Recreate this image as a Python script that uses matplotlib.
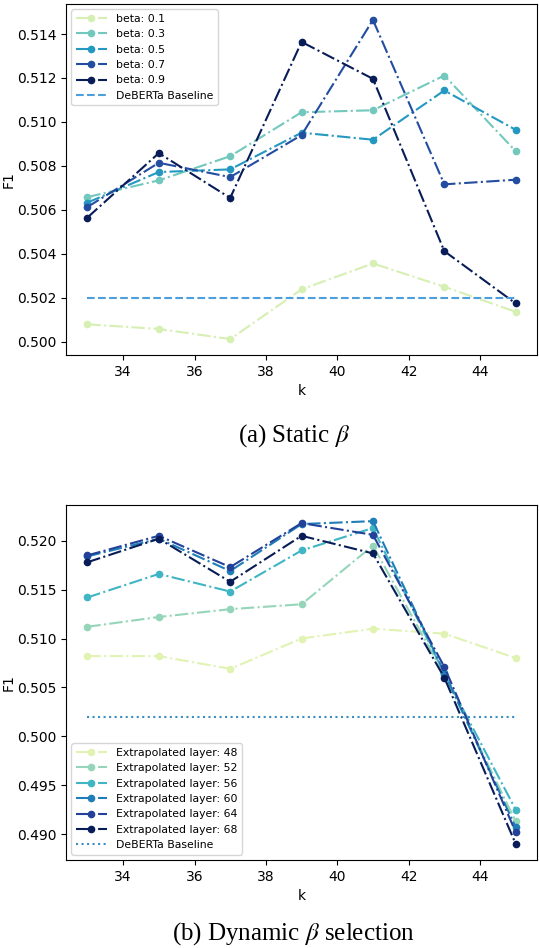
import numpy as np
import matplotlib
matplotlib.use("Agg")
import matplotlib.pyplot as plt

plt.rcParams['mathtext.fontset'] = 'stix'

k = [33, 35, 37, 39, 41, 43, 45]

# (a) Static beta
beta_labels = ["beta: 0.1", "beta: 0.3", "beta: 0.5", "beta: 0.7", "beta: 0.9"]
beta_01 = [0.50079, 0.50058, 0.50012, 0.50238, 0.50356, 0.50250, 0.50136]
beta_03 = [0.50658, 0.50734, 0.50844, 0.51044, 0.51053, 0.51211, 0.50867]
beta_05 = [0.50633, 0.50772, 0.50784, 0.50951, 0.50919, 0.51143, 0.50964]
beta_07 = [0.50613, 0.50814, 0.50749, 0.50940, 0.51464, 0.50716, 0.50737]
beta_09 = [0.50565, 0.50858, 0.50654, 0.51364, 0.51196, 0.50412, 0.50174]
static_series = [beta_01, beta_03, beta_05, beta_07, beta_09]

# (b) Dynamic beta selection
layer_labels = ["Extrapolated layer: 48", "Extrapolated layer: 52", "Extrapolated layer: 56",
                "Extrapolated layer: 60", "Extrapolated layer: 64", "Extrapolated layer: 68"]
layer_48 = [0.5082, 0.5082, 0.5069, 0.5100, 0.5110, 0.5105, 0.5080]
layer_52 = [0.5112, 0.5122, 0.5130, 0.5135, 0.5195, 0.5063, 0.4913]
layer_56 = [0.5142, 0.5166, 0.5148, 0.5190, 0.5213, 0.5064, 0.4925]
layer_60 = [0.5184, 0.5202, 0.5169, 0.5217, 0.5220, 0.5065, 0.4907]
layer_64 = [0.5185, 0.5205, 0.5173, 0.5218, 0.5206, 0.5071, 0.4902]
layer_68 = [0.5178, 0.5202, 0.5158, 0.5205, 0.5187, 0.5060, 0.4890]
dynamic_series = [layer_48, layer_52, layer_56, layer_60, layer_64, layer_68]

baseline = 0.502
baseline_label = "DeBERTa Baseline"

cmap = plt.get_cmap("YlGnBu")
static_colors = cmap(np.linspace(0.2, 1.0, 5))
dynamic_colors = cmap(np.linspace(0.17, 1.0, 6))

fig = plt.figure(figsize=(5.39, 9.48), dpi=100)

leg_kw = dict(fontsize=7.8, handlelength=2.9)

ax1 = fig.add_axes([0.1225, 0.6255, 0.874, 0.3703])
for vals, lab, c in zip(static_series, beta_labels, static_colors):
    ax1.plot(k, vals, linestyle='-.', marker='o', markersize=4.5, linewidth=1.5, color=c, label=lab)
ax1.plot(k, [baseline] * len(k), linestyle='--', linewidth=1.5, color='#4c9fdc', label=baseline_label)
ax1.set_xlabel("k")
ax1.set_ylabel("F1")
ax1.yaxis.set_label_coords(-0.106, 0.5)
ax1.legend(loc='upper left', **leg_kw)

ax2 = fig.add_axes([0.1225, 0.0928, 0.874, 0.3745])
for vals, lab, c in zip(dynamic_series, layer_labels, dynamic_colors):
    ax2.plot(k, vals, linestyle='-.', marker='o', markersize=4.5, linewidth=1.5, color=c, label=lab)
ax2.plot(k, [baseline] * len(k), linestyle=':', linewidth=1.5, color='#3b8fc0', label=baseline_label)
ax2.set_xlabel("k")
ax2.set_ylabel("F1")
ax2.yaxis.set_label_coords(-0.106, 0.5)
ax2.legend(loc='lower left', **leg_kw)

fig.text(0.545, 1 - 436 / 948, r"(a) Static $\beta$", ha='center', va='center',
         fontsize=18, family='Liberation Serif')
fig.text(0.545, 1 - 934 / 948, r"(b) Dynamic $\beta$ selection", ha='center', va='center',
         fontsize=18, family='Liberation Serif')

fig.savefig("out.png", dpi=100)
